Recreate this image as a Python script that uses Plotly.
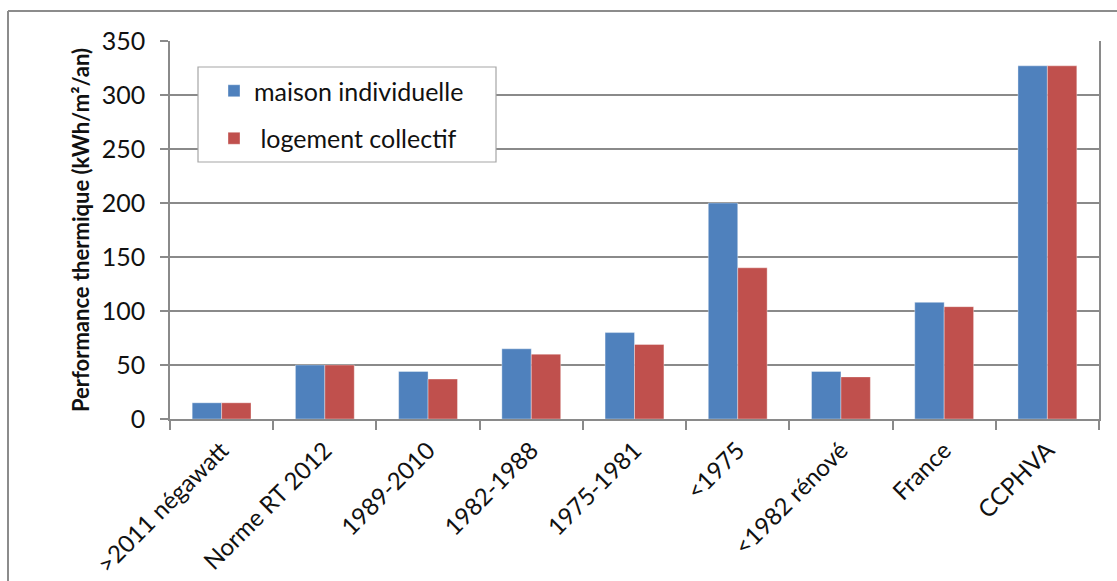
import plotly.graph_objects as go

# Consommation thermique par période de construction
categories = [">2011 négawatt", "Norme RT 2012", "1989-2010", "1982-1988",
              "1975-1981", "<1975", "<1982 rénové", "France", "CCPHVA"]
maison_individuelle = [15, 50, 44, 65, 80, 200, 44, 108, 327]
logement_collectif = [15, 50, 37, 60, 69, 140, 39, 104, 327]
y_ticks = [0, 50, 100, 150, 200, 250, 300, 350]

W, H = 1117, 581
L, R, T, B = 170, 18, 41, 162
pw, ph = W - L - R, H - T - B

def px(x):
    return (x - L) / pw

def py(y):
    return (H - B - y) / ph

FONT = "Lato, 'Open Sans', sans-serif"
GRID = "#8a8a8a"
TXT = "#111111"

fig = go.Figure()
fig.add_trace(go.Bar(
    x=categories, y=maison_individuelle, name="maison individuelle",
    marker=dict(color="#4F81BD", line=dict(color="rgba(255,255,255,0.6)", width=0.6)),
    legendgroup="a",
))
fig.add_trace(go.Bar(
    x=categories, y=logement_collectif, name="\u00a0logement collectif",
    marker=dict(color="#C0504D", line=dict(color="rgba(255,255,255,0.6)", width=0.6)),
    legendgroup="b",
))

fig.update_layout(
    width=W, height=H,
    margin=dict(l=L, r=R, t=T, b=B, autoexpand=False),
    paper_bgcolor="white", plot_bgcolor="white",
    barmode="group", bargap=0.43, bargroupgap=0,
    font=dict(family=FONT, size=24, color=TXT),
    showlegend=True,
    legend=dict(
        x=px(214), y=py(68), xanchor="left", yanchor="top",
        bgcolor="rgba(0,0,0,0)", borderwidth=0,
        font=dict(family=FONT, size=25, color=TXT),
        traceorder="grouped", tracegroupgap=12,
    ),
    xaxis=dict(
        type="category", automargin=False,
        showline=True, linecolor=GRID, linewidth=1.5,
        ticks="outside", tickson="boundaries", ticklen=9, tickcolor=GRID, tickwidth=1.5,
        ticklabelstandoff=6,
        tickangle=-45, tickfont=dict(family=FONT, size=24, color=TXT),
        showgrid=False,
    ),
    yaxis=dict(
        range=[0, 350], tickvals=y_ticks, automargin=False,
        showline=True, linecolor=GRID, linewidth=1.5, mirror=True,
        ticks="outside", ticklen=8, tickcolor=GRID, tickwidth=1.5,
        ticklabelstandoff=10,
        showgrid=True, gridcolor=GRID, gridwidth=1.5,
        zeroline=False,
        tickfont=dict(family=FONT, size=25, color=TXT),
        title=dict(text="<b>Performance thermique (kWh/m²/an)</b>",
                   font=dict(family=FONT, size=22, color=TXT), standoff=6),
    ),
    shapes=[
        # cadre du graphique
        dict(type="line", xref="paper", yref="paper",
             x0=px(8), x1=px(1125), y0=py(11), y1=py(11),
             line=dict(color="#8c8c8c", width=2)),
        dict(type="line", xref="paper", yref="paper",
             x0=px(8), x1=px(8), y0=py(11), y1=py(590),
             line=dict(color="#8c8c8c", width=2)),
        # cadre de la légende
        dict(type="rect", xref="paper", yref="paper", layer="above",
             x0=px(198), x1=px(496), y0=py(162), y1=py(67),
             fillcolor="white", line=dict(color="#a6a6a6", width=1.2)),
    ],
)

fig.write_html("out.html")
